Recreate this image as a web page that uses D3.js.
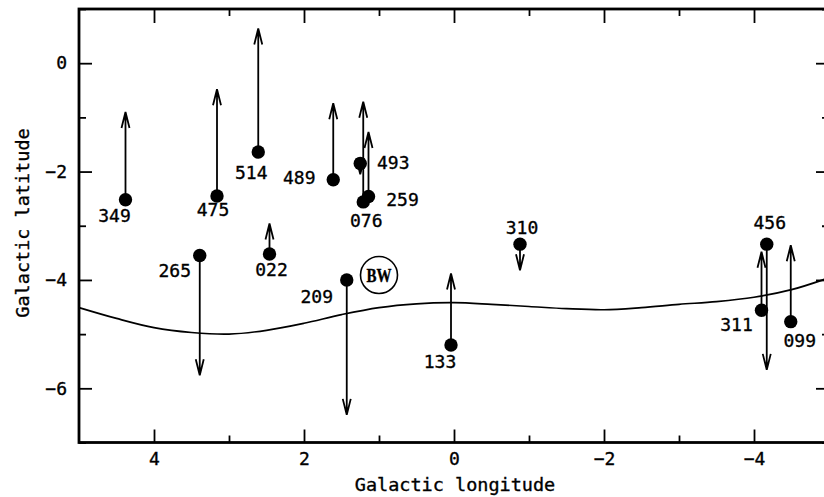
<!DOCTYPE html>
<html>
<head>
<meta charset="utf-8">
<script src="https://cdn.jsdelivr.net/npm/d3@7"></script>
<style>
  body { margin: 0; background: #fff; }
  svg { display: block; }
  text { font-family: "DejaVu Sans Mono", monospace; fill: #000; stroke: #000; stroke-width: 0.35px; }
</style>
</head>
<body>
<script>
// star ids, positions (galactic lon/lat) and where the proper-motion arrow ends
var ids    = ["349", "475", "514", "489", "493", "076", "259", "310", "456", "311", "099", "265", "022", "209", "133"];
var lon    = [4.38, 3.16, 2.61, 1.61, 1.25, 1.21, 1.14, -0.88, -4.17, -4.10, -4.49, 3.39, 2.46, 1.43, 0.04];
var lat    = [-2.52, -2.45, -1.64, -2.15, -1.85, -2.56, -2.46, -3.34, -3.34, -4.56, -4.77, -3.55, -3.52, -4.00, -5.20];
var latEnd = [-0.90, -0.48, 0.64, -0.74, -2.05, -0.71, -1.27, -3.82, -5.66, -3.48, -3.36, -5.76, -2.96, -6.49, -3.88];

// the curve (edge of the survey)
var curveLon = [5, 4.5, 4, 3.5, 3, 2.5, 2, 1.5, 1, 0.5, 0, -0.5, -1, -1.5, -2, -2.5, -3, -3.5, -4, -4.5, -5];
var curveLat = [-4.51, -4.71, -4.88, -4.97, -5.00, -4.93, -4.80, -4.64, -4.51, -4.44, -4.42, -4.45, -4.49, -4.53, -4.55, -4.51, -4.45, -4.40, -4.32, -4.18, -3.96];

// Baade's window marker
var bwLon = [1.0];
var bwLat = [-3.91];

var xMajor = [4, 2, 0, -2, -4];
var xMinor = [3, 1, -1, -3];
var yMajor = [0, -2, -4, -6];
var yMinor = [1, -1, -3, -5, -7];

var svgWidth = 824;
var svgHeight = 497;

var svg = d3.select("body")
    .append("svg")
    .attr("width", svgWidth)
    .attr("height", svgHeight);

var x = d3.scaleLinear().domain([5, -5]).range([79, 829]);
var y = d3.scaleLinear().domain([-7, 1]).range([442.5, 9]);

var fmt = function(d) { return d < 0 ? "\u2212" + (-d) : String(d); };

// label placement relative to each dot (px)
var labelOff = {
  "349": [-11, 16], "475": [-4, 14], "514": [-7, 20], "489": [-34, -2],
  "493": [33, -1], "076": [3, 19], "259": [34, 3], "310": [2, -17],
  "456": [3, -22], "311": [-25, 14], "099": [9, 19], "265": [-25, 15],
  "022": [2, 16], "209": [-30, 17], "133": [-11, 17]
};

// axes: ticks all point inward
function styleAxis(g) {
  g.select(".domain").remove();
  g.selectAll(".tick line").attr("stroke", "#000").attr("stroke-width", 1.8);
  g.selectAll(".tick text").style("font-family", "DejaVu Sans Mono, monospace")
    .style("font-size", "18px").attr("fill", "#000");
}

svg.append("g").attr("transform", "translate(0," + y.range()[0] + ")")
  .call(d3.axisBottom(x).tickValues(xMajor).tickSize(-13).tickPadding(10).tickFormat(fmt))
  .call(styleAxis);
svg.append("g").attr("transform", "translate(0," + y.range()[0] + ")")
  .call(d3.axisBottom(x).tickValues(xMinor).tickSize(-7).tickFormat(""))
  .call(styleAxis);
svg.append("g").attr("transform", "translate(0," + y.range()[1] + ")")
  .call(d3.axisTop(x).tickValues(xMajor).tickSize(-14).tickFormat(""))
  .call(styleAxis);
svg.append("g").attr("transform", "translate(0," + y.range()[1] + ")")
  .call(d3.axisTop(x).tickValues(xMinor).tickSize(-7).tickFormat(""))
  .call(styleAxis);
svg.append("g").attr("transform", "translate(" + x.range()[0] + ",0)")
  .call(d3.axisLeft(y).tickValues(yMajor).tickSize(-13).tickPadding(12).tickFormat(fmt))
  .call(styleAxis);
svg.append("g").attr("transform", "translate(" + x.range()[0] + ",0)")
  .call(d3.axisLeft(y).tickValues(yMinor).tickSize(-7).tickFormat(""))
  .call(styleAxis);
svg.append("g").attr("transform", "translate(" + x.range()[1] + ",0)")
  .call(d3.axisRight(y).tickValues(yMajor).tickSize(-13).tickFormat(""))
  .call(styleAxis);
svg.append("g").attr("transform", "translate(" + x.range()[1] + ",0)")
  .call(d3.axisRight(y).tickValues(yMinor).tickSize(-7).tickFormat(""))
  .call(styleAxis);

// frame
svg.append("rect")
  .attr("x", x.range()[0]).attr("y", y.range()[1])
  .attr("width", x.range()[1] - x.range()[0])
  .attr("height", y.range()[0] - y.range()[1])
  .attr("fill", "none").attr("stroke", "#000").attr("stroke-width", 2.8);

// curve
var curvePts = curveLon.map(function(d, i) { return [d, curveLat[i]]; });
svg.append("path")
  .datum(curvePts)
  .attr("fill", "none").attr("stroke", "#000").attr("stroke-width", 1.7)
  .attr("d", d3.line().x(d => x(d[0])).y(d => y(d[1])).curve(d3.curveCatmullRom.alpha(0.5)));

var stars = ids.map(function(id, i) {
  return { id: id, lon: lon[i], lat: lat[i], end: latEnd[i] };
});

// arrows
svg.selectAll(".arrow")
  .data(stars)
  .enter()
  .append("path")
  .attr("class", "arrow")
  .attr("fill", "none").attr("stroke", "#000").attr("stroke-width", 1.8)
  .attr("stroke-linejoin", "miter")
  .attr("d", function(d) {
    var px = x(d.lon), y0 = y(d.lat), yt = y(d.end);
    var dir = yt < y0 ? 1 : -1;
    return "M" + px + "," + y0 + "L" + px + "," + yt +
      "M" + (px - 4) + "," + (yt + dir * 16) + "L" + px + "," + yt +
      "L" + (px + 4) + "," + (yt + dir * 16);
  });

// dots
svg.selectAll(".star")
  .data(stars)
  .enter()
  .append("circle")
  .attr("class", "star")
  .attr("cx", d => x(d.lon))
  .attr("cy", d => y(d.lat))
  .attr("r", 6.7)
  .attr("fill", "#000");

// labels
svg.selectAll(".starText")
  .data(stars)
  .enter()
  .append("text")
  .attr("class", "starText")
  .attr("x", d => x(d.lon) + labelOff[d.id][0])
  .attr("y", d => y(d.lat) + labelOff[d.id][1])
  .attr("dy", "0.36em")
  .attr("text-anchor", "middle")
  .attr("font-size", "18px")
  .text(d => d.id);

// BW
svg.append("circle")
  .attr("cx", x(bwLon[0])).attr("cy", y(bwLat[0])).attr("r", 18.5)
  .attr("fill", "none").attr("stroke", "#000").attr("stroke-width", 1.6);
svg.append("text")
  .attr("x", x(bwLon[0])).attr("y", y(bwLat[0]))
  .attr("dy", "0.36em")
  .attr("text-anchor", "middle")
  .attr("textLength", 25).attr("lengthAdjust", "spacingAndGlyphs")
  .style("font-family", "Liberation Serif, serif")
  .style("font-weight", "bold")
  .attr("font-size", "18px")
  .text("BW");

// axis titles
svg.append("text")
  .attr("x", 455).attr("y", 491)
  .attr("text-anchor", "middle")
  .attr("font-size", "18.5px")
  .text("Galactic longitude");

svg.append("text")
  .attr("transform", "translate(29,223) rotate(-90)")
  .attr("text-anchor", "middle")
  .attr("font-size", "18.5px")
  .text("Galactic latitude");
</script>
</body>
</html>
